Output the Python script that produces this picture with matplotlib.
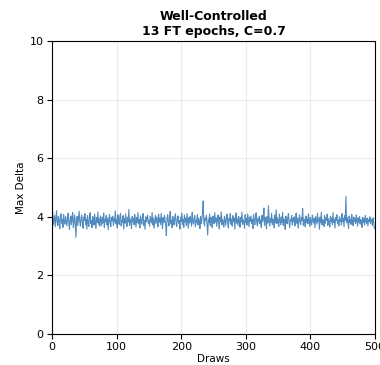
import numpy as np
import matplotlib
matplotlib.use("Agg")
import matplotlib.pyplot as plt

title = "Well-Controlled\n13 FT epochs, C=0.7"
x_label = "Draws"
y_label = "Max Delta"
x_ticks = [0, 100, 200, 300, 400, 500]
y_ticks = [0, 2, 4, 6, 8, 10]

# max delta per draw
max_delta = [
    3.95, 4.18, 3.72, 3.88, 4.05, 3.66, 3.92, 4.21, 3.81, 3.70, 4.02, 3.86, 3.59, 3.97, 4.10, 3.78, 3.91, 3.64, 4.08, 3.83, 3.75, 4.00, 3.87, 3.69, 3.94,
    4.12, 3.80, 3.57, 3.90, 4.03, 3.73, 3.98, 4.15, 3.62, 3.85, 4.07, 3.76, 3.30, 3.89, 4.01, 3.70, 3.95, 4.19, 3.84, 3.68, 3.93, 4.06, 3.79, 3.61, 3.99,
    3.87, 4.11, 3.74, 3.92, 3.58, 4.04, 3.82, 3.67, 3.96, 4.14, 3.77, 3.88, 3.63, 4.01, 3.90, 3.72, 4.09, 3.85, 3.60, 3.97, 3.81, 4.16, 3.75, 3.93, 3.68,
    4.03, 3.86, 3.71, 3.99, 3.79, 4.13, 3.64, 3.91, 3.84, 4.05, 3.73, 3.95, 3.56, 3.89, 4.08, 3.80, 3.66, 3.98, 3.87, 4.02, 3.70, 3.94, 3.83, 4.20, 3.76,
    3.90, 3.62, 4.07, 3.85, 3.74, 3.97, 4.12, 3.69, 3.88, 3.81, 4.04, 3.58, 3.93, 3.78, 4.10, 3.86, 3.67, 3.99, 3.82, 4.25, 3.71, 3.92, 3.87, 3.60, 4.01,
    3.84, 3.95, 3.73, 4.08, 3.89, 3.65, 3.98, 3.80, 4.14, 3.76, 3.91, 3.62, 4.03, 3.86, 3.75, 3.96, 4.11, 3.70, 3.88, 3.57, 4.00, 3.83, 3.93, 4.06, 3.78,
    3.87, 3.68, 4.02, 3.91, 3.79, 4.15, 3.72, 3.94, 3.61, 3.85, 4.05, 3.77, 3.99, 3.88, 3.66, 4.09, 3.82, 3.95, 3.74, 4.12, 3.86, 3.59, 3.97, 3.80, 4.04,
    3.90, 3.71, 3.36, 3.93, 4.07, 3.83, 3.69, 3.98, 4.18, 3.76, 3.89, 3.63, 4.01, 3.85, 3.72, 3.96, 4.10, 3.81, 3.67, 3.92, 4.03, 3.78, 3.87, 3.58, 3.99,
    3.84, 4.13, 3.73, 3.90, 3.64, 4.06, 3.82, 3.95, 3.70, 4.11, 3.86, 3.61, 3.97, 3.79, 4.02, 3.88, 3.68, 4.15, 3.83, 3.75, 3.93, 4.04, 3.66, 3.89, 3.80,
    4.08, 3.72, 3.94, 3.85, 3.60, 4.01, 3.77, 3.91, 4.12, 4.54, 3.83, 3.69, 3.96, 3.87, 4.05, 3.74, 3.38, 3.92, 3.81, 4.10, 3.70, 3.98, 3.86, 3.63, 4.03,
    3.88, 3.76, 4.14, 3.82, 3.95, 3.67, 3.90, 4.06, 3.79, 3.59, 3.99, 3.85, 4.17, 3.73, 3.91, 3.84, 3.65, 4.02, 3.87, 3.71, 3.97, 4.09, 3.80, 3.62, 3.94,
    3.86, 4.11, 3.75, 3.92, 3.68, 4.04, 3.83, 3.96, 3.58, 3.89, 4.13, 3.78, 3.93, 3.70, 4.01, 3.87, 3.64, 3.98, 3.82, 4.16, 3.74, 3.90, 3.85, 3.61, 4.07,
    3.81, 3.95, 3.72, 4.10, 3.86, 3.66, 3.99, 3.84, 4.03, 3.77, 3.91, 3.60, 4.08, 3.88, 3.73, 3.97, 4.14, 3.80, 3.69, 3.94, 3.85, 4.02, 3.76, 3.89, 3.63,
    4.05, 3.83, 3.93, 4.30, 3.71, 3.98, 3.87, 3.59, 4.01, 3.79, 4.38, 3.90, 3.68, 3.95, 3.82, 4.12, 3.74, 3.92, 3.86, 3.62, 4.06, 3.80, 4.24, 3.77, 3.96,
    3.85, 3.67, 4.09, 3.88, 3.73, 3.99, 3.81, 4.15, 3.70, 3.93, 3.84, 3.57, 4.02, 3.87, 3.76, 3.97, 4.11, 3.79, 3.64, 3.91, 3.86, 4.05, 3.72, 3.94, 3.83,
    4.00, 3.69, 3.89, 4.13, 3.78, 3.95, 3.61, 3.87, 4.07, 3.82, 3.74, 3.98, 3.88, 4.28, 3.71, 3.92, 3.85, 3.66, 4.03, 3.80, 3.93, 3.76, 4.10, 3.86, 3.68,
    3.97, 3.83, 3.72, 4.06, 3.89, 3.79, 3.94, 3.63, 4.01, 3.87, 3.75, 4.12, 3.84, 3.92, 3.58, 3.99, 3.81, 4.16, 3.73, 3.90, 3.86, 3.67, 4.04, 3.78, 3.95,
    3.88, 4.09, 3.71, 3.93, 3.82, 3.65, 4.02, 3.85, 3.96, 3.74, 4.14, 3.80, 3.91, 3.62, 3.98, 3.87, 4.07, 3.76, 3.89, 3.69, 4.00, 3.84, 3.93, 3.72, 4.11,
    3.83, 3.95, 3.66, 4.05, 3.88, 4.70, 3.79, 3.97, 3.86, 3.60, 4.03, 3.81, 3.92, 3.74, 4.08, 3.87, 3.70, 3.99, 3.84, 3.94, 3.77, 4.06, 3.89, 3.68, 3.96,
    3.82, 4.01, 3.75, 3.91, 3.86, 3.64, 3.98, 3.80, 3.93, 3.72, 4.04, 3.87, 3.78, 3.95, 3.69, 3.90, 3.84, 4.00, 3.76, 3.92, 3.85, 3.71, 3.96, 3.81, 3.60,
]
draws = np.arange(len(max_delta))

fig = plt.figure(figsize=(3.8, 3.65), dpi=100)
ax = fig.add_axes([52 / 380, 31 / 365, 323 / 380, 293 / 365])

ax.plot(draws, max_delta, color="#3f7fb8", linewidth=0.8, alpha=0.9)

ax.set_xlim(0, 500)
ax.set_ylim(0, 10)
ax.set_xticks(x_ticks)
ax.set_yticks(y_ticks)
ax.tick_params(labelsize=8, pad=2.5)
ax.grid(True, alpha=0.25)

ax.set_xlabel(x_label, fontsize=7.5, labelpad=1)
ax.set_ylabel(y_label, fontsize=7.5, labelpad=3)
ax.set_title(title, fontsize=9, fontweight="bold", pad=4)

plt.savefig("out.png", dpi=100)
plt.close()
